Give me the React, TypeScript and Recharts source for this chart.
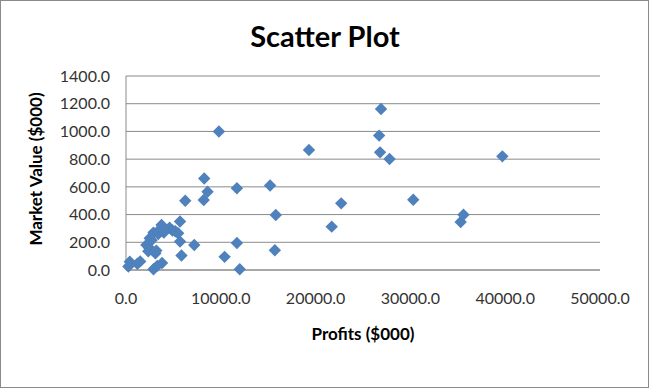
import React from "react";
import {
  ScatterChart,
  Scatter,
  XAxis,
  YAxis,
  CartesianGrid,
  Label,
} from "recharts";

// Profits ($000) and market value ($000), one entry per company
const profits = [
  250, 400, 1200, 1500, 2900, 3800, 3300, 2150, 2350, 2450,
  2500, 2700, 2900, 3100, 3200, 3400, 3750, 3600, 4000, 4600,
  4900, 5200, 5500, 5700, 5700, 5850, 6250, 7200, 8200, 8250,
  8600, 9800, 10400, 11700, 11700, 12000, 15200, 15700, 15800, 19300,
  21700, 22700, 26700, 26800, 26900, 27800, 30300, 35300, 35600, 39700,
];
const marketValues = [
  25, 60, 45, 62, 5, 50, 30, 180, 135, 160,
  230, 215, 270, 120, 140, 260, 325, 295, 270, 305,
  285, 280, 265, 205, 350, 105, 500, 180, 505, 660,
  565, 1000, 95, 590, 195, 5, 610, 142, 397, 866,
  313, 481, 970, 849, 1162, 801, 507, 346, 399, 820,
];
const xTicks = [0, 10000, 20000, 30000, 40000, 50000];
const yTicks = [0, 200, 400, 600, 800, 1000, 1200, 1400];

const points = profits.map((p, i) => ({ profit: p, value: marketValues[i] }));

const FONT = "Lato, 'Open Sans', sans-serif";
const GRID = "#8a8a8a";

const Diamond = (props: any) => {
  const { cx, cy } = props;
  const r = 6.2;
  return (
    <polygon
      points={`${cx},${cy - r} ${cx + r},${cy} ${cx},${cy + r} ${cx - r},${cy}`}
      fill="#4F81BD"
    />
  );
};

export default function App() {
  return (
    <div
      style={{
        position: "absolute",
        left: 0,
        top: 0,
        width: 650,
        height: 389,
        background: "#fff",
        fontFamily: FONT,
      }}
    >
      <div
        style={{
          position: "absolute",
          top: 19,
          left: 0,
          width: 650,
          textAlign: "center",
          fontSize: 29,
          fontWeight: 700,
          lineHeight: "34px",
          color: "#000",
        }}
      >
        Scatter Plot
      </div>
      <ScatterChart
        width={650}
        height={389}
        margin={{ top: 76, right: 50, bottom: 0, left: 0 }}
      >
        <CartesianGrid vertical={false} stroke={GRID} />
        <XAxis
          type="number"
          dataKey="profit"
          domain={[0, 50000]}
          ticks={xTicks}
          tickFormatter={(v: number) => v.toFixed(1)}
          height={119}
          tickLine={false}
          tickSize={0}
          tickMargin={23}
          axisLine={{ stroke: GRID }}
          tick={{ fill: "#333", fontSize: 16, fontFamily: FONT }}
        >
          <Label
            content={(p: any) => {
              const vb = p.viewBox;
              return (
                <text
                  x={vb.x + vb.width / 2}
                  y={vb.y + 70}
                  textAnchor="middle"
                  fontFamily={FONT}
                  fontSize={17}
                  fontWeight={700}
                  fill="#000"
                >
                  Profits ($000)
                </text>
              );
            }}
          />
        </XAxis>
        <YAxis
          type="number"
          dataKey="value"
          domain={[0, 1400]}
          ticks={yTicks}
          tickFormatter={(v: number) => v.toFixed(1)}
          width={126}
          tickLine={false}
          tickSize={0}
          tickMargin={16}
          axisLine={{ stroke: GRID }}
          tick={{ fill: "#333", fontSize: 16, fontFamily: FONT }}
        >
          <Label
            content={(p: any) => {
              const vb = p.viewBox;
              const x = vb.x + 42;
              const y = vb.y + vb.height / 2 - 4;
              return (
                <text
                  x={x}
                  y={y}
                  transform={`rotate(-90, ${x}, ${y})`}
                  textAnchor="middle"
                  fontFamily={FONT}
                  fontSize={17}
                  fontWeight={700}
                  fill="#000"
                >
                  Market Value ($000)
                </text>
              );
            }}
          />
        </YAxis>
        <Scatter data={points} shape={Diamond} isAnimationActive={false} />
      </ScatterChart>
      <div
        style={{
          position: "absolute",
          left: 0,
          top: 0,
          width: 649,
          height: 388,
          border: "1px solid #8a8a8a",
          boxSizing: "border-box",
          pointerEvents: "none",
        }}
      />
    </div>
  );
}
